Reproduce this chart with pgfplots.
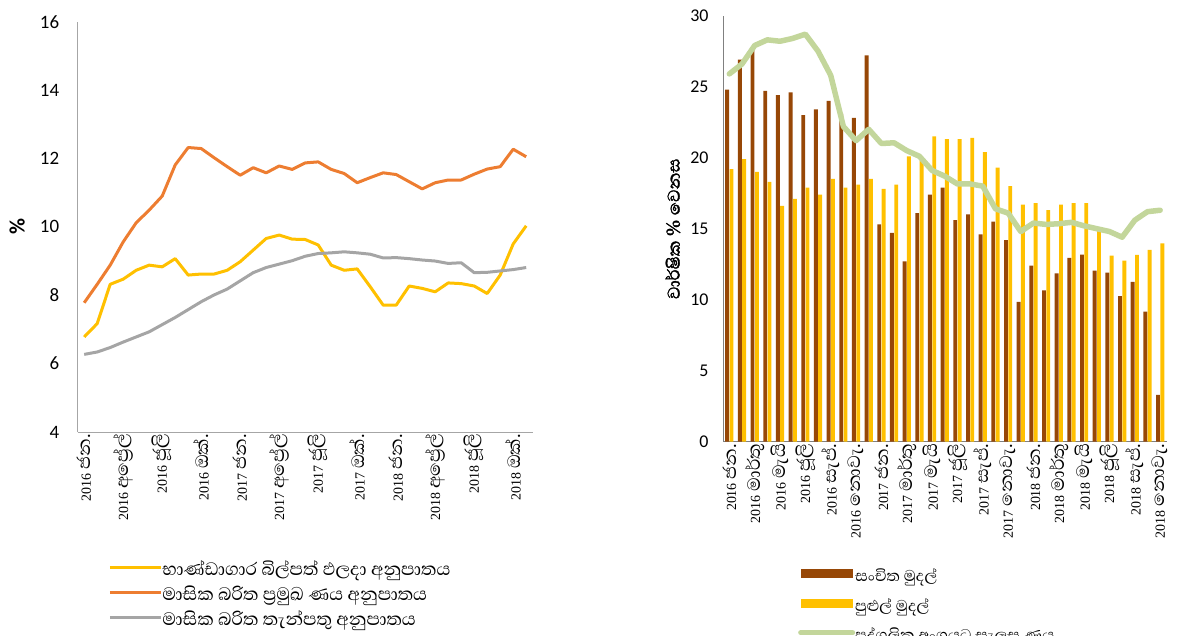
\documentclass[border=0pt]{standalone}
\usepackage{fontspec}
\setmainfont{Carlito}
\newfontfamily\sinfont[Script=Sinhala]{Abhaya Libre}
\newfontfamily\sinbold[Script=Sinhala, FakeBold=1.6]{Abhaya Libre}
\newfontfamily\digfont{Liberation Serif}
\usepackage{pgfplots}
\pgfplotsset{compat=1.18}
\usepackage{pgfplotstable}
\definecolor{tbY}{HTML}{FFC000}
\definecolor{lendO}{HTML}{ED7D31}
\definecolor{depG}{HTML}{A5A5A5}
\definecolor{rmB}{HTML}{974706}
\definecolor{pscG}{HTML}{C3D69B}
\definecolor{axg}{HTML}{A6A6A6}
\newcommand{\tl}[2]{{\digfont\fontsize{14}{14}\selectfont #1}\hspace{4bp}{\sinfont\fontsize{23}{23}\selectfont #2}}

\pgfplotstableread{
i tb lend dep
0 6.78 7.78 6.27
1 7.17 8.32 6.34
2 8.32 8.88 6.47
3 8.47 9.56 6.63
4 8.73 10.12 6.78
5 8.88 10.49 6.93
6 8.83 10.90 7.14
7 9.07 11.81 7.35
8 8.59 12.32 7.58
9 8.62 12.29 7.81
10 8.62 12.02 8.01
11 8.73 11.76 8.18
12 8.98 11.51 8.42
13 9.32 11.73 8.66
14 9.66 11.58 8.81
15 9.76 11.78 8.91
16 9.64 11.68 9.01
17 9.63 11.87 9.14
18 9.47 11.90 9.22
19 8.88 11.68 9.24
20 8.73 11.56 9.27
21 8.77 11.29 9.24
22 8.25 11.44 9.20
23 7.71 11.58 9.09
24 7.71 11.53 9.10
25 8.27 11.32 9.07
26 8.20 11.11 9.03
27 8.10 11.29 9.00
28 8.36 11.37 8.93
29 8.34 11.37 8.95
30 8.27 11.54 8.66
31 8.05 11.69 8.67
32 8.59 11.76 8.71
33 9.50 12.27 8.75
34 10.03 12.05 8.81
}\lefttable

\pgfplotstableread{
i rm bm psc
0 24.8 19.2 25.9
1 26.9 19.9 26.6
2 27.6 19.0 27.9
3 24.7 18.3 28.3
4 24.4 16.6 28.2
5 24.6 17.1 28.4
6 23.0 17.9 28.7
7 23.4 17.4 27.5
8 24.0 18.5 25.8
9 23.1 17.9 22.2
10 22.8 18.1 21.2
11 27.2 18.5 22.0
12 15.3 17.8 21.0
13 14.7 18.1 21.05
14 12.7 20.1 20.5
15 16.1 19.8 20.1
16 17.4 21.5 19.1
17 17.9 21.3 18.7
18 15.6 21.3 18.15
19 16.0 21.4 18.15
20 14.6 20.4 18.0
21 15.5 19.3 16.4
22 14.2 18.0 16.1
23 9.84 16.7 14.8
24 12.4 16.8 15.4
25 10.66 16.3 15.3
26 11.86 16.7 15.35
27 12.94 16.8 15.45
28 13.17 16.8 15.2
29 12.04 15.0 15.0
30 11.9 13.1 14.8
31 10.26 12.75 14.4
32 11.25 13.15 15.6
33 9.16 13.5 16.2
34 3.29 13.97 16.3
}\righttable

\begin{document}
\begin{tikzpicture}
\useasboundingbox (0bp,0bp) rectangle (1180bp,636bp);
\begin{axis}[
  at={(77.7bp,204bp)}, anchor=south west, scale only axis,
  width=455bp, height=410.3bp,
  xmin=-0.5, xmax=34.5, ymin=4, ymax=16, ytick={4,6,...,16},
  xtick={0,3,...,33},
  xticklabels={{\tl{2016}{ජන.}},{\tl{2016}{අප්^^^^200dරේල්}},{\tl{2016}{ජූලි}},{\tl{2016}{ඔක්.}},{\tl{2017}{ජන.}},{\tl{2017}{අප්^^^^200dරේල්}},{\tl{2017}{ජූලි}},{\tl{2017}{ඔක්.}},{\tl{2018}{ජන.}},{\tl{2018}{අප්^^^^200dරේල්}},{\tl{2018}{ජූලි}},{\tl{2018}{ඔක්.}}},
  axis x line*=bottom, axis y line*=left,
  axis line style={-, draw=axg, line width=0.8bp},
  major tick length=0pt,
  /pgf/number format/assume math mode=true,
  yticklabel style={font=\fontsize{19}{19}\selectfont, xshift=-15bp},
  xticklabel style={rotate=90, anchor=east, inner sep=2bp},
  ylabel={\textbf{\%}},
  every axis y label/.style={at={(axis description cs:-0.133,0.5)}, rotate=90, anchor=center, font=\fontsize{22}{22}\selectfont},
  legend style={at={(axis description cs:0.067,-0.317)}, anchor=north west, draw=none, fill=none,
    font=\sinfont\fontsize{23}{23}\selectfont, row sep=6bp, inner sep=0pt,
    nodes={inner sep=0pt, text height=13bp, text depth=6bp},
    /tikz/every even column/.style={column sep=6bp}},
  legend cell align=left,
  legend image code/.code={\draw[#1] (0bp,4bp) -- (51bp,4bp);},
]
\addplot[tbY, line width=3bp, line join=round] table[x=i, y=tb] {\lefttable};
\addlegendentry{භාණ්ඩාගාර බිල්පත් ඵලදා අනුපාතය}
\addplot[lendO, line width=3bp, line join=round] table[x=i, y=lend] {\lefttable};
\addlegendentry{මාසික බරිත ප්^^^^200dරමුඛ ණය අනුපාතය}
\addplot[depG, line width=3bp, line join=round] table[x=i, y=dep] {\lefttable};
\addlegendentry{මාසික බරිත තැන්පතු අනුපාතය}
\end{axis}

\begin{axis}[
  at={(723bp,194.3bp)}, anchor=south west, scale only axis,
  width=443.5bp, height=426bp,
  xmin=-0.5, xmax=34.5, ymin=0, ymax=30, ytick={0,5,...,30},
  xtick={0,2,...,34},
  xticklabels={{\tl{2016}{ජන.}},{\tl{2016}{මාර්තු}},{\tl{2016}{මැයි}},{\tl{2016}{ජූලි}},{\tl{2016}{සැප්.}},{\tl{2016}{නොවැ.}},{\tl{2017}{ජන.}},{\tl{2017}{මාර්තු}},{\tl{2017}{මැයි}},{\tl{2017}{ජූලි}},{\tl{2017}{සැප්.}},{\tl{2017}{නොවැ.}},{\tl{2018}{ජන.}},{\tl{2018}{මාර්තු}},{\tl{2018}{මැයි}},{\tl{2018}{ජූලි}},{\tl{2018}{සැප්.}},{\tl{2018}{නොවැ.}}},
  axis x line*=bottom, axis y line*=left,
  axis line style={-, draw=gray, line width=0.8bp},
  major tick length=0pt,
  /pgf/number format/assume math mode=true,
  yticklabel style={font=\fontsize{18}{18}\selectfont, xshift=-11bp},
  xticklabel style={rotate=90, anchor=east, inner sep=2bp},
  ylabel={වාර්ෂික \% වෙනස},
  every axis y label/.style={at={(axis description cs:-0.113,0.5)}, rotate=90, anchor=center, font=\sinbold\fontsize{22}{22}\selectfont},
  legend style={at={(axis description cs:0.169,-0.299)}, anchor=north west, draw=none, fill=none,
    font=\sinfont\fontsize{20}{20}\selectfont, row sep=13bp, inner sep=0pt,
    nodes={inner sep=0pt, text height=11bp, text depth=5bp},
    /tikz/every even column/.style={column sep=6bp}},
  legend cell align=left,
]
\addplot[ybar, bar width=3.9bp, bar shift=-2.15bp, fill=rmB, draw=none,
  legend image code/.code={\fill[rmB] (0bp,0bp) rectangle (52bp,9bp);}]
  table[x=i, y=rm] {\righttable};
\addlegendentry{සංචිත මුදල්}
\addplot[ybar, bar width=3.9bp, bar shift=2.15bp, fill=tbY, draw=none,
  legend image code/.code={\fill[tbY] (0bp,0bp) rectangle (52bp,9bp);}]
  table[x=i, y=bm] {\righttable};
\addlegendentry{පුළුල් මුදල්}
\addplot[pscG, line width=5.5bp, line join=round, line cap=round,
  legend image code/.code={\draw[pscG, line width=5bp, line cap=round] (0bp,4.5bp) -- (52bp,4.5bp);}]
  table[x=i, y=psc] {\righttable};
\addlegendentry{පුද්ගලික අංශයට සැලසූ ණය}
\end{axis}
\end{tikzpicture}
\end{document}
